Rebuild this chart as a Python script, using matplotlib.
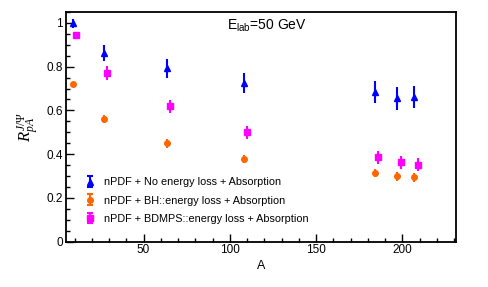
import numpy as np
import matplotlib
matplotlib.use("Agg")
import matplotlib.pyplot as plt
from matplotlib.ticker import MultipleLocator, FixedLocator

plt.rcParams['font.family'] = ['Liberation Sans', 'DejaVu Sans']
plt.rcParams['mathtext.fontset'] = 'custom'
plt.rcParams['mathtext.rm'] = 'Liberation Serif'
plt.rcParams['mathtext.it'] = 'Liberation Serif:italic'

A = [9, 27, 63.5, 108, 184, 197, 207]
A_shift = 2.0

noeloss = [0.998, 0.862, 0.793, 0.725, 0.684, 0.656, 0.661]
noeloss_err = [0.020, 0.037, 0.044, 0.046, 0.050, 0.052, 0.050]

bh = [0.720, 0.561, 0.450, 0.377, 0.313, 0.298, 0.293]
bh_err = [0.012, 0.018, 0.020, 0.020, 0.020, 0.020, 0.020]

bdmps = [0.946, 0.771, 0.618, 0.499, 0.385, 0.362, 0.351]
bdmps_err = [0.012, 0.030, 0.030, 0.030, 0.030, 0.030, 0.030]

labels = ["nPDF + No energy loss + Absorption",
          "nPDF + BH::energy loss + Absorption",
          "nPDF + BDMPS::energy loss + Absorption"]
colors = ["#0000ff", "#ff6600", "#ff00ff"]
markers = ["^", "o", "s"]

fig = plt.figure(figsize=(4.88, 2.87), dpi=100)
ax = fig.add_axes([0.135, 0.1585, 0.799, 0.7995])

series = [(A, noeloss, noeloss_err), (A, bh, bh_err),
          ([a + A_shift for a in A], bdmps, bdmps_err)]
handles = []
for (x, y, e), c, m, lab in zip(series, colors, markers, labels):
    ax.errorbar(x, y, yerr=e, fmt=m, color=c, ms=4, elinewidth=1.5,
                capsize=0, mec=c, mfc=c)
    h = ax.errorbar([np.nan], [np.nan], yerr=[np.nan], fmt=m, color=c, ms=4,
                    elinewidth=1.5, capsize=2.5, capthick=1.5, mec=c, mfc=c)
    handles.append(h)

ax.set_xlim(5, 231)
ax.set_ylim(0, 1.05)
ax.xaxis.set_major_locator(FixedLocator([50, 100, 150, 200]))
ax.xaxis.set_minor_locator(MultipleLocator(10))
ax.yaxis.set_major_locator(FixedLocator([0, 0.2, 0.4, 0.6, 0.8, 1.0]))
ax.yaxis.set_minor_locator(MultipleLocator(0.05))
ax.set_yticklabels(["0", "0.2", "0.4", "0.6", "0.8", "1"])
ax.tick_params(which='both', direction='in', top=False, right=False,
               labelsize=8.5, width=1, pad=2)
ax.tick_params(which='major', length=6)
ax.tick_params(which='minor', length=3)
for s in ax.spines.values():
    s.set_linewidth(1.3)

ax.set_xlabel("A", fontsize=9, labelpad=3)
ax.set_ylabel(r"$R^{J/\Psi}_{pA}$", fontsize=12, labelpad=4)

ax.text(0.413, 0.905, r"E$_{\mathregular{lab}}$=50 GeV", transform=ax.transAxes,
        fontsize=10, ha='left', va='bottom')

leg = ax.legend(handles, labels, loc='lower left', bbox_to_anchor=(0.02, 0.035),
                frameon=False, fontsize=7.8, handlelength=1.2, handletextpad=0.7,
                labelspacing=0.75)

fig.savefig("out.png", dpi=100)
